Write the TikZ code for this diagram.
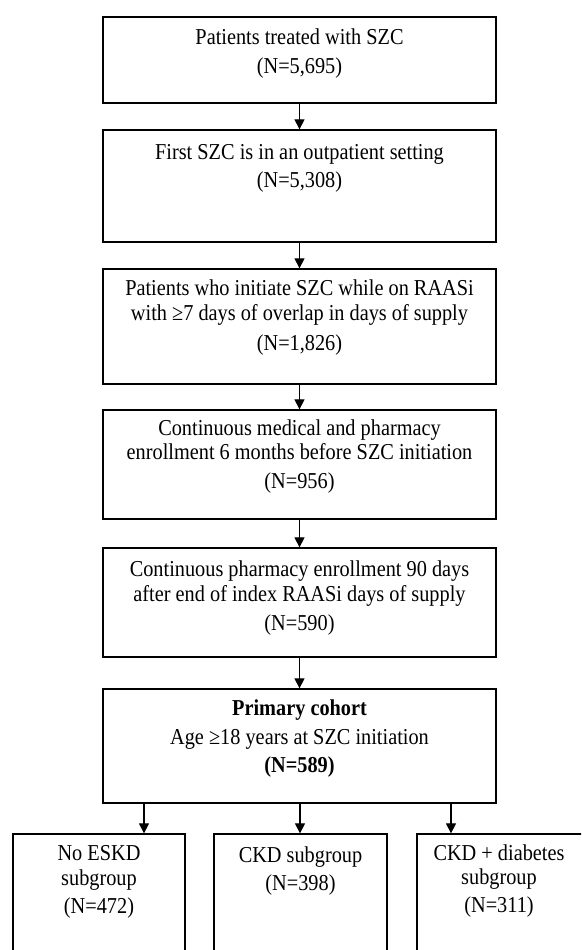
\documentclass[tikz,border=0pt]{standalone}
\usepackage{fontspec}
\usepackage{graphicx}
\setmainfont{Liberation Serif}
\usetikzlibrary{arrows.meta}
\newcommand{\tall}[1]{\scalebox{1}[1.12]{#1}}
\begin{document}
\begin{tikzpicture}[x=1pt,y=-1pt,
  box/.style={draw=black, line width=1.3pt, rectangle, inner sep=0pt},
  txt/.style={anchor=base, inner sep=0pt, font=\fontsize{20.3}{24}\selectfont},
  btxt/.style={txt, font=\fontsize{20.3}{24}\selectfont\bfseries},
  arr/.style={line width=1.2pt, -{Triangle[length=10pt,width=10pt]}}]
\useasboundingbox[fill=white] (0,0) rectangle (581,950);
\clip (0,0) rectangle (581,950);
% main boxes
\node[box, minimum width=393pt, minimum height=86pt]  (b1) at (299.5,60) {};
\node[box, minimum width=393pt, minimum height=112pt] (b2) at (299.5,186) {};
\node[box, minimum width=393pt, minimum height=115pt] (b3) at (299.5,326.5) {};
\node[box, minimum width=393pt, minimum height=109pt] (b4) at (299.5,464.5) {};
\node[box, minimum width=393pt, minimum height=109pt] (b5) at (299.5,602.5) {};
\node[box, minimum width=393pt, minimum height=114pt] (b6) at (299.5,746) {};
% bottom boxes
\node[box, minimum width=172pt, minimum height=136pt] (bl) at (99,902) {};
\node[box, minimum width=173pt, minimum height=136pt] (bm) at (300.5,902) {};
\node[box, minimum width=183pt, minimum height=136pt] (br) at (508.5,902) {};
% texts
\node[txt] (t1a) at (299.5,45) {\tall{Patients treated with SZC}};
\node[txt] (t1b) at (299.5,74) {\tall{(N=5,695)}};
\node[txt] (t2a) at (299.5,159) {\tall{First SZC is in an outpatient setting}};
\node[txt] (t2b) at (299.5,187) {\tall{(N=5,308)}};
\node[txt] (t3a) at (299.5,295) {\tall{Patients who initiate SZC while on RAASi}};
\node[txt] (t3b) at (299.5,320) {\tall{with ≥7 days of overlap in days of supply}};
\node[txt] (t3c) at (299.5,350) {\tall{(N=1,826)}};
\node[txt] (t4a) at (299.5,435) {\tall{Continuous medical and pharmacy}};
\node[txt] (t4b) at (299.5,459) {\tall{enrollment 6 months before SZC initiation}};
\node[txt] (t4c) at (299.5,488) {\tall{(N=956)}};
\node[txt] (t5a) at (299.5,576) {\tall{Continuous pharmacy enrollment 90 days}};
\node[txt] (t5b) at (299.5,601) {\tall{after end of index RAASi days of supply}};
\node[txt] (t5c) at (299.5,630) {\tall{(N=590)}};
\node[btxt] (t6a) at (299.5,715) {\tall{Primary cohort}};
\node[txt] (t6b) at (299.5,744) {\tall{Age ≥18 years at SZC initiation}};
\node[btxt] (t6c) at (299.5,772) {\tall{(N=589)}};
\node[txt] (tla) at (99,860) {\tall{No ESKD}};
\node[txt] (tlb) at (99,885) {\tall{subgroup}};
\node[txt] (tlc) at (99,913) {\tall{(N=472)}};
\node[txt] (tma) at (300.5,862) {\tall{CKD subgroup}};
\node[txt] (tmb) at (300.5,890) {\tall{(N=398)}};
\node[txt] (tra) at (499,860) {\tall{CKD + diabetes}};
\node[txt] (trb) at (499,884) {\tall{subgroup}};
\node[txt] (trc) at (499,912) {\tall{(N=311)}};
% connectors
\draw[arr] (b1.south) -- (b2.north);
\draw[arr] (b2.south) -- (b3.north);
\draw[arr] (b3.south) -- (b4.north);
\draw[arr] (b4.south) -- (b5.north);
\draw[arr] (b5.south) -- (b6.north);
\coordinate (xl) at (144,0);
\coordinate (xm) at (300,0);
\coordinate (xr) at (451,0);
\draw[arr] (b6.south -| xl) -- (bl.north -| xl);
\draw[arr] (b6.south -| xm) -- (bm.north -| xm);
\draw[arr] (b6.south -| xr) -- (br.north -| xr);
\end{tikzpicture}
\end{document}
